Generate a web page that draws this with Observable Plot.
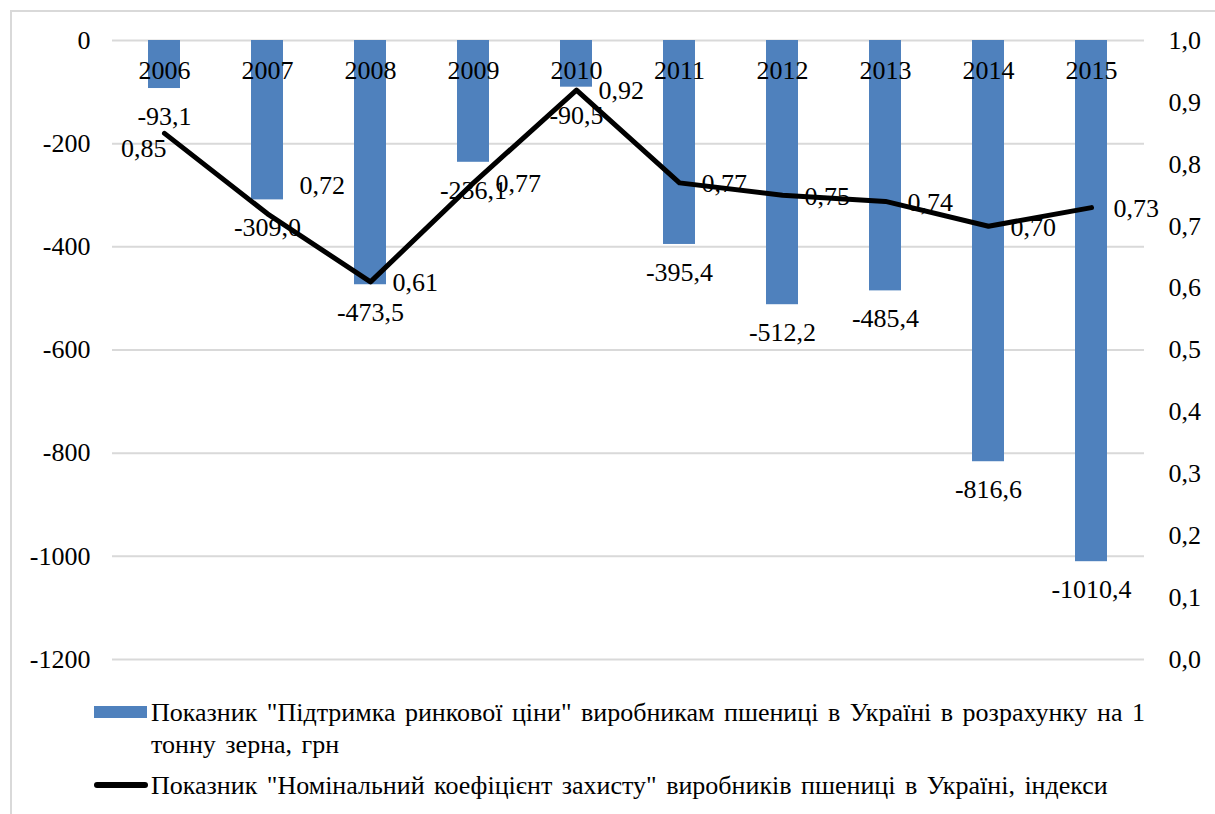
<!DOCTYPE html>
<html>
<head>
<meta charset="utf-8">
<script src="https://cdn.jsdelivr.net/npm/d3@7"></script>
<script src="https://cdn.jsdelivr.net/npm/@observablehq/plot@0.6"></script>
<style>
  html, body { margin: 0; padding: 0; background: #fff; }
  body { width: 1215px; height: 814px; position: relative; overflow: hidden; font-family: 'Liberation Serif', serif; }
  #frame { position: absolute; left: 10px; top: 10px; width: 1300px; height: 900px; border-left: 2px solid #d9d9d9; border-top: 2px solid #d9d9d9; }
  #chart { position: absolute; left: 0; top: 0; }
  #legend { position: absolute; left: 0; top: 0; width: 1215px; color: #000; }
  .item { position: absolute; left: 94px; }
  .sw-bar { position: absolute; left: 0; width: 53px; height: 12px; background: #4f81bd; }
  .sw-line { position: absolute; left: 0; width: 54px; height: 6px; background: #000; border-radius: 3px; }
  .txt { position: absolute; left: 57px; line-height: 31.6px; white-space: nowrap; font-family: 'Liberation Serif', serif; font-size: 26px; word-spacing: 3px; }
</style>
</head>
<body>
<div id="frame"></div>
<div id="chart"></div>
<div id="legend">
  <div class="item" style="top:704px;">
    <div class="sw-bar" style="top:2px;"></div>
    <div class="txt" id="lg1" style="top:-7px;"></div>
  </div>
  <div class="item" style="top:774px;">
    <div class="sw-line" style="top:7.5px;"></div>
    <div class="txt" id="lg2" style="top:-3.6px;"></div>
  </div>
</div>
<script>
const years = [2006, 2007, 2008, 2009, 2010, 2011, 2012, 2013, 2014, 2015];
const priceSupport = [-93.1, -309.0, -473.5, -236.1, -90.5, -395.4, -512.2, -485.4, -816.6, -1010.4];
const npc = [0.85, 0.72, 0.61, 0.77, 0.92, 0.77, 0.75, 0.74, 0.70, 0.73];
const leftTicks = [0, -200, -400, -600, -800, -1000, -1200];
const rightTicks = [0, 0.1, 0.2, 0.3, 0.4, 0.5, 0.6, 0.7, 0.8, 0.9, 1.0];

const seriesBarLines = ['Показник "Підтримка ринкової ціни" виробникам пшениці в Україні в розрахунку на 1', 'тонну зерна, грн'];
const seriesLine = 'Показник "Номінальний коефіцієнт захисту" виробників пшениці в Україні, індекси';

const lg1 = document.getElementById('lg1');
seriesBarLines.forEach((t, i) => { if (i) lg1.appendChild(document.createElement('br')); lg1.appendChild(document.createTextNode(t)); });
document.getElementById('lg2').textContent = seriesLine;

// map right axis (0..1) onto left axis (-1200..0)
const toLeft = v => v * 1200 - 1200;
const fromLeft = d => (d + 1200) / 1200;
const comma = (v, n) => v.toFixed(n).replace('.', ',');

const rows = years.map((y, i) => ({year: y, support: priceSupport[i], npc: npc[i], npcL: toLeft(npc[i])}));

const fs = 26;
const T = {fontSize: fs, fill: '#000'};

const chart = Plot.plot({
  width: 1215,
  height: 690,
  marginLeft: 112,
  marginRight: 71,
  marginTop: 40,
  marginBottom: 31,
  style: {fontSize: fs + 'px', color: '#000', background: 'transparent'},
  x: {type: 'band', domain: years, paddingInner: 0.687, paddingOuter: 0.3435, axis: null},
  y: {domain: [-1200, 0], axis: null},
  marks: [
    Plot.gridY(leftTicks, {stroke: '#d9d9d9', strokeOpacity: 1, strokeWidth: 2}),
    Plot.axisY(leftTicks, {anchor: 'left', tickSize: 0, tickPadding: 22, ...T, tickFormat: d => String(d), label: null}),
    Plot.axisY(rightTicks.map(toLeft), {anchor: 'right', tickSize: 0, tickPadding: 24, ...T, tickFormat: d => comma(fromLeft(d), 1), label: null}),
    Plot.barY(rows, {x: 'year', y: 'support', fill: '#4f81bd'}),
    Plot.text(rows, {x: 'year', y: () => 0, text: d => String(d.year), dy: 30, ...T}),
    Plot.text(rows, {x: 'year', y: 'support', text: d => comma(d.support, 1), dy: 28, ...T}),
    Plot.line(rows, {x: 'year', y: 'npcL', stroke: '#000', strokeWidth: 5, strokeLinejoin: 'round', strokeLinecap: 'round'}),
    Plot.text(rows.filter(d => d.year > 2007), {x: 'year', y: 'npcL', text: d => comma(d.npc, 2), textAnchor: 'start', dx: 22, dy: 1, ...T}),
    Plot.text(rows.filter(d => d.year === 2006), {x: 'year', y: 'npcL', text: d => comma(d.npc, 2), textAnchor: 'end', dx: 2, dy: 15, ...T}),
    Plot.text(rows.filter(d => d.year === 2007), {x: 'year', y: 'npcL', text: d => comma(d.npc, 2), textAnchor: 'start', dx: 32, dy: -28, ...T})
  ]
});
chart.setAttribute('font-family', 'Liberation Serif');
chart.style.fontFamily = "'Liberation Serif'";
chart.querySelectorAll('g, text').forEach(el => {
  el.removeAttribute('font-family');
  el.style.fontFamily = "'Liberation Serif'";
});
document.getElementById('chart').appendChild(chart);
</script>
</body>
</html>
